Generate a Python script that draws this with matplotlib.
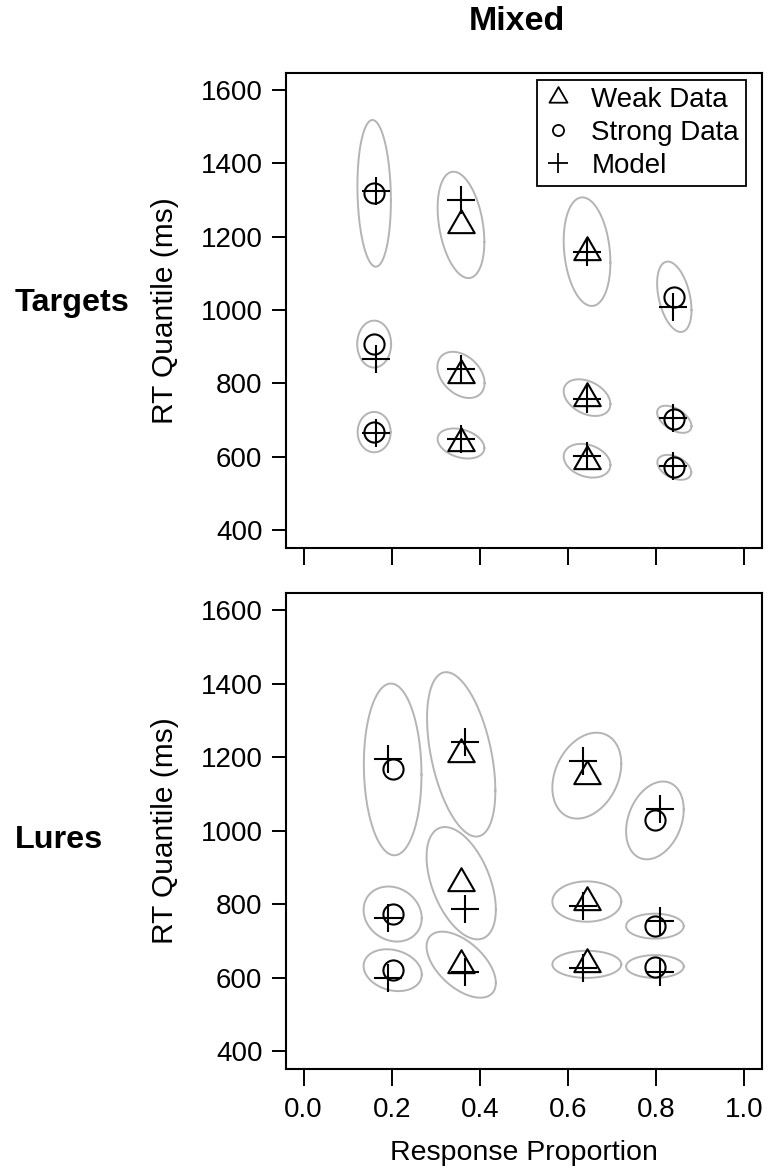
import numpy as np
import matplotlib
matplotlib.use("Agg")
import matplotlib.pyplot as plt
from matplotlib.path import Path
from matplotlib.lines import Line2D

plt.rcParams['font.family'] = ['Liberation Sans', 'DejaVu Sans']

#Targets panel: data points (weak = triangles, strong = circles) and model (+)
tar_weak_x = [0.357, 0.357, 0.357, 0.643, 0.643, 0.643]
tar_weak_y = [1232, 823, 636, 1159, 761, 589]
tar_strong_x = [0.160, 0.160, 0.160, 0.841, 0.841, 0.841]
tar_strong_y = [1318, 907, 667, 1036, 702, 571]
tar_model_x = [0.164, 0.164, 0.164, 0.357, 0.357, 0.357,
               0.643, 0.643, 0.643, 0.838, 0.838, 0.838]
tar_model_y = [1325, 866, 665, 1300, 840, 648, 1157, 757, 602, 1007, 705, 575]
#ellipse half-width (proportion), half-height (ms) and tilt for each data point
tar_weak_ell_w = [0.053, 0.0535, 0.053, 0.053, 0.053, 0.053]
tar_weak_ell_h = [145, 63, 41, 148, 50, 46]
tar_weak_ell_r = [-0.32, -0.35, -0.3, -0.2, -0.35, -0.25]
tar_strong_ell_w = [0.038, 0.0385, 0.0375, 0.039, 0.039, 0.0385]
tar_strong_ell_h = [200, 64, 55, 96, 37, 34]
tar_strong_ell_r = [-0.1, 0.0, 0.0, -0.38, -0.5, -0.4]

#Lures panel
lur_weak_x = [0.3575, 0.3575, 0.3575, 0.6425, 0.6425, 0.6425]
lur_weak_y = [1208, 857, 635, 1150, 807, 636]
lur_strong_x = [0.202, 0.202, 0.202, 0.797, 0.797, 0.797]
lur_strong_y = [1167, 773, 620, 1028, 740, 630]
lur_model_x = [0.191, 0.191, 0.191, 0.367, 0.367, 0.367,
               0.633, 0.633, 0.633, 0.809, 0.809, 0.809]
lur_model_y = [1194, 761, 598, 1243, 788, 614, 1191, 794, 627, 1059, 755, 614]
lur_weak_ell_w = [0.0775, 0.0786, 0.0786, 0.0782, 0.0782, 0.0782]
lur_weak_ell_h = [224, 153, 90, 117, 55, 37]
lur_weak_ell_r = [-0.44, -0.47, -0.55, 0.28, 0.0, 0.0]
lur_strong_ell_w = [0.0654, 0.066, 0.066, 0.0654, 0.0654, 0.0654]
lur_strong_ell_h = [234, 75, 57, 106, 34, 31]
lur_strong_ell_r = [-0.06, -0.15, -0.2, 0.28, 0.0, 0.0]

y_ticks = [400, 600, 800, 1000, 1200, 1400, 1600]
x_ticks = [0.0, 0.2, 0.4, 0.6, 0.8, 1.0]
x_tick_labels = ["0.0", "0.2", "0.4", "0.6", "0.8", "1.0"]

#R style triangle (point sits at the centroid)
tri = Path([(0, 2), (1.732, -1), (-1.732, -1), (0, 2)], closed=True)

def draw_ellipses(ax, xs, ys, ws, hs, rs):
    t = np.linspace(0, 2 * np.pi, 200)
    for cx, cy, w, h, r in zip(xs, ys, ws, hs, rs):
        ex = cx + w * np.cos(t)
        ey = cy + h * (r * np.cos(t) + np.sqrt(1 - r ** 2) * np.sin(t))
        ax.plot(ex, ey, color='#b4b4b4', lw=1.4, zorder=1)

def draw_panel(ax, wx, wy, sx, sy, mx, my, wew, weh, wer, sew, seh, ser):
    draw_ellipses(ax, wx, wy, wew, weh, wer)
    draw_ellipses(ax, sx, sy, sew, seh, ser)
    ax.plot(wx, wy, ls='none', marker=tri, ms=22, mfc='none', mec='black', mew=1.5, zorder=3)
    ax.plot(sx, sy, ls='none', marker='o', ms=14.5, mfc='none', mec='black', mew=1.5, zorder=3)
    ax.plot(mx, my, ls='none', marker='+', ms=20.5, mec='black', mew=1.5, zorder=4)
    ax.set_xlim(-0.04, 1.04)
    ax.set_ylim(351, 1647)
    ax.set_yticks(y_ticks)
    ax.set_xticks(x_ticks)
    ax.set_xticklabels(x_tick_labels)
    ax.tick_params(axis='y', direction='out', length=10, width=1.4, pad=7, labelsize=20)
    ax.tick_params(axis='x', direction='out', length=12.5, width=1.4, pad=8, labelsize=20)
    for s in ax.spines.values():
        s.set_linewidth(1.5)
    ax.set_ylabel("RT Quantile (ms)", fontsize=21.5)
    ax.yaxis.set_label_coords(-0.225, 0.5)

fig = plt.figure(figsize=(7.68, 11.74), dpi=100)
ax1 = fig.add_axes([0.3724, 0.5332, 0.6198, 0.4049])
ax2 = fig.add_axes([0.3724, 0.0895, 0.6198, 0.4052])

draw_panel(ax1, tar_weak_x, tar_weak_y, tar_strong_x, tar_strong_y, tar_model_x, tar_model_y,
           tar_weak_ell_w, tar_weak_ell_h, tar_weak_ell_r,
           tar_strong_ell_w, tar_strong_ell_h, tar_strong_ell_r)
draw_panel(ax2, lur_weak_x, lur_weak_y, lur_strong_x, lur_strong_y, lur_model_x, lur_model_y,
           lur_weak_ell_w, lur_weak_ell_h, lur_weak_ell_r,
           lur_strong_ell_w, lur_strong_ell_h, lur_strong_ell_r)
ax1.tick_params(axis='x', labelbottom=False)
ax2.set_xlabel("Response Proportion", fontsize=20.5)
ax2.xaxis.set_label_coords(0.5, -0.149)

#legend in the top panel
handles = [
    Line2D([], [], ls='none', marker=tri, ms=15, mfc='none', mec='black', mew=1.3),
    Line2D([], [], ls='none', marker='o', ms=8, mfc='none', mec='black', mew=1.3),
    Line2D([], [], ls='none', marker='+', ms=14.5, mec='black', mew=1.3),
]
leg = ax1.legend(handles, ["Weak Data", "Strong Data", "Model"], loc='upper right',
                 bbox_to_anchor=(0.966, 0.985), borderaxespad=0, fontsize=20,
                 frameon=True, fancybox=False, framealpha=1, edgecolor='black',
                 handlelength=1.0, handletextpad=0.7, labelspacing=0.25, borderpad=0.25)
leg.get_frame().set_linewidth(1.3)

fig.text(517 / 768, 1 - 22 / 1174, "Mixed", fontsize=24.5, fontweight='bold', ha='center', va='center')
fig.text(15 / 768, 1 - 303 / 1174, "Targets", fontsize=23.3, fontweight='bold', ha='left', va='center')
fig.text(15 / 768, 1 - 840 / 1174, "Lures", fontsize=23.3, fontweight='bold', ha='left', va='center')

fig.savefig("out.png", dpi=100)
